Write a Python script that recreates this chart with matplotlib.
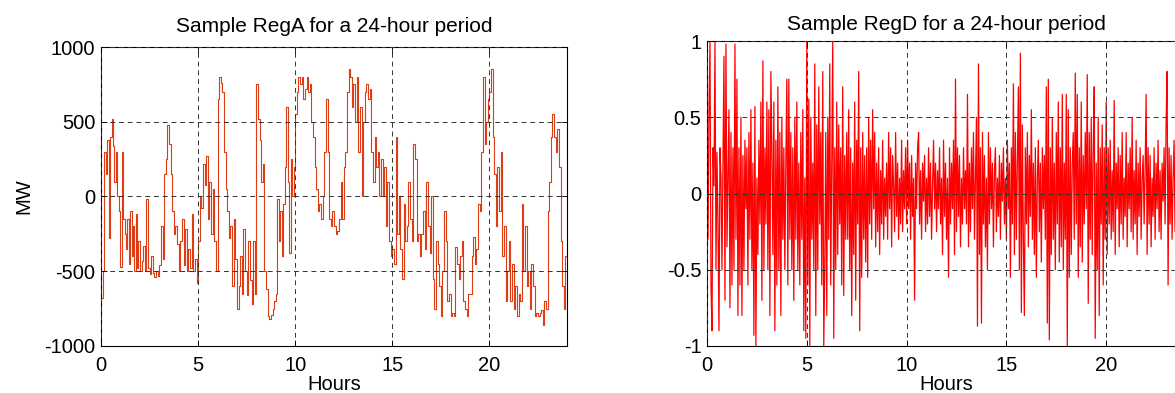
import numpy as np
import matplotlib.pyplot as plt

plt.rcParams['font.family'] = ['Liberation Sans', 'DejaVu Sans']
plt.rcParams['axes.unicode_minus'] = False

# RegA samples (MW), one list per hour
rega_hours = [
    [-680, -500, 300, 150, 380, -280, 400, 520, 340, 100, 300, 0, -100],
    [-470, 300, -150, -250, -350, -150, -450, -100, -400, -200, -500, -120, -480, -300],
    [-500, -430, -330, -500, -20, -480, -520, -400, -510, -540, -500, -530],
    [-460, -200, -420, 150, 250, 480, 350, 150, -100, -250, -200, -320],
    [-500, -300, -150, -460, -220, -500, -350, -480, -120, -500, -420, -580],
    [-300, 0, -80, 220, 80, 270, -150, 100, -250, 50, -300, -500],
    [650, 800, 760, 700, 300, 50, -100, -280, -200, -600, -150, -420],
    [-750, -600, -400, -650, -220, -500, -660, -300, -560, -720, -300, -650],
    [750, 520, 380, 100, 220, -500, -620, -800, -820, -790, -750, -700],
    [-650, -20, -300, -100, -400, -50, 200, 600, 100, -380, 250, 0, 200],
    [550, 700, 800, 750, 800, 650, 720, 800, 700, 750, 500, 400],
    [200, 50, -100, -50, -150, 0, 300, 650, 300, -150, -200, -100],
    [-200, -250, -230, -150, 100, -150, 200, 300, 700, 850, 800, 600],
    [750, 500, 800, 300, 600, 0, 500, 700, 750, 650, 720, 300],
    [100, 400, 200, 300, 0, 250, 0, 200, -200, 100, -300, -400],
    [-350, -450, 400, -250, 0, -350, -550, -50, -300, -200, 100, -150],
    [-300, 350, 250, -300, -250, -400, -250, -100, -350, 100, -200, -380],
    [0, -550, -750, -300, -450, -600, -800, -500, -100, -300, -700, -650],
    [-800, -780, -800, -340, -450, -550, -400, -300, -700, -750, -800, -650],
    [-650, -400, -270, -450, -350, -50, -100, 300, 800, 350, 500, 650],
    [700, 850, 400, 150, -200, 200, -100, 300, -400, -200, -700, -500],
    [-300, -700, -450, -750, -600, -800, -650, -700, -50, -500, -200, -600],
    [-500, -750, -450, -600, -800, -780, -800, -780, -760, -860, -700, -750],
    [-100, 100, 400, 550, 400, 300, 450, 200, -300, -600, -750, -400],
]

# RegD samples (normalised), one list per hour
regd_hours = [
    [0.2, -0.3, 0.55, 1.0, -0.6, -0.9, 0.3, 0.05, 1.0, -0.5, 0.27, -0.2, -0.9, 0.3, 0.1, -0.5, 0.2, 0.9, -0.7, 0.98],
    [-0.35, 0.1, 0.55, -0.75, 0.4, -0.6, 0.3, -0.5, 0.98, -0.3, 0.75, -0.8, 0.3, -0.6, 0.5, -0.8, 0.25, -0.5, 0.35, -0.1],
    [0.3, -0.6, 0.4, -0.3, 0.55, -0.5, 0.2, -0.93, 0.57, -1.0, 0.1, -0.4, 0.35, -0.2, 0.6, -0.7, 0.87, -0.5, 0.3, -0.2],
    [0.6, -0.5, 0.55, -0.8, 0.8, 0.3, -0.4, 0.6, -0.9, 0.35, -0.6, 0.7, -0.5, 0.4, -0.8, 0.5, -0.3, 0.3, -0.5, 0.2],
    [0.75, -0.6, 0.75, -0.3, 0.4, -0.5, 0.3, -0.7, 0.5, -0.3, 0.6, -0.5, 0.2, -0.6, 0.4, -0.3, 0.55, -0.9, 0.1, -0.95],
    [1.0, -0.6, 0.62, -1.0, 0.5, -0.3, 0.2, -0.5, 0.85, -0.8, 0.45, -0.5, 0.7, -0.2, 0.4, -0.6, 0.8, -1.0, -0.5, 0.4],
    [-0.8, 0.5, -0.3, 0.85, -0.6, 0.2, 1.0, -0.95, 0.3, -0.5, 0.6, -0.4, 0.45, -0.2, 0.3, -0.6, 0.7, -0.67, 0.25, -0.3],
    [0.4, -0.3, 0.55, -0.5, 0.3, -0.8, 0.2, -0.4, 0.6, -0.7, 0.35, -0.2, 0.8, -0.9, 0.3, -0.55, 0.4, -0.3, 0.25, -0.45],
    [0.3, -0.55, 0.5, -0.2, 0.35, -0.3, 0.55, -0.1, 0.4, -0.35, 0.2, -0.25, 0.3, -0.4, 0.15, -0.2, 0.35, -0.3, 0.1, -0.15],
    [0.2, -0.3, 0.4, -0.1, 0.3, -0.35, 0.25, 0.05, -0.25, 0.4, -0.15, 0.2, -0.3, 0.1, -0.2, 0.35, -0.25, 0.15, -0.1, 0.3],
    [-0.2, 0.35, -0.1, 0.2, -0.3, 0.25, -0.15, 0.1, -0.7, 0.2, -0.1, 0.3, 0.4, -0.2, 0.15, -0.3, 0.2, -0.05, 0.25, -0.25],
    [0.1, -0.2, 0.3, -0.15, 0.2, -0.3, 0.05, 0.35, -0.1, 0.2, -0.25, 0.15, -0.1, 0.3, -0.2, 0.1, -0.4, 0.35, -0.15, 0.2],
    [-0.3, 0.1, -0.55, 0.3, -0.2, 0.2, -0.1, 0.35, -0.4, 0.75, -0.25, 0.3, -0.15, 0.25, -0.35, 0.1, -0.2, 0.3, -0.1, 0.15],
    [-0.2, 0.65, -0.35, 0.2, -0.25, 0.3, -0.1, 0.4, -0.3, 0.1, 0.5, -0.87, 0.85, -0.4, 0.3, -0.85, 0.4, -0.2, 0.25, -0.35],
    [0.1, -0.5, 0.4, -0.2, 0.3, -0.1, 0.2, -0.35, 0.15, 0.3, -0.25, 0.1, -0.15, 0.25, -0.3, 0.2, -0.05, 0.3, -0.2, 0.1],
    [-0.3, 0.35, -0.1, 0.2, -0.55, 0.3, -0.2, 0.72, -0.4, 0.4, -0.3, 0.2, 0.7, -0.5, 0.92, -0.78, 0.45, -0.3, -0.8, 0.3],
    [-0.2, 0.4, -0.35, 0.25, -0.15, 0.55, -0.3, 0.2, -0.4, 0.3, -0.55, 0.1, 0.35, -0.25, 0.2, -0.45, 0.3, -0.1, 0.25, -0.3],
    [0.7, -0.85, 0.75, -0.96, 0.3, -0.4, 0.5, -0.3, 0.2, -0.5, 0.4, -0.2, 0.6, -0.45, 0.3, -0.35, 0.65, -0.5, 0.2, -0.3],
    [0.65, -1.0, 0.55, -0.55, 0.3, -0.4, 0.2, 0.4, -0.3, 0.79, -0.2, 0.65, -0.55, 0.3, -0.35, 0.6, -0.45, 0.25, -0.2, 0.4],
    [-0.1, 0.78, -0.72, 0.4, -0.3, 0.5, -0.4, 0.3, 0.7, -0.95, 0.2, -0.5, 0.5, -0.8, 0.3, -0.2, 0.45, -0.6, 0.3, -0.3],
    [0.6, -0.4, 0.3, -0.2, 0.35, -0.3, 0.15, -0.25, 0.61, -0.4, 0.2, -0.1, 0.3, -0.35, 0.25, -0.2, 0.4, -0.3, 0.1, -0.15],
    [0.4, -0.35, 0.2, -0.1, 0.3, -0.25, 0.5, -0.3, 0.15, -0.2, 0.35, -0.4, 0.2, -0.15, 0.3, -0.3, 0.1, 0.25, -0.2, 0.15],
    [0.65, -0.4, 0.3, -0.2, 0.25, -0.35, 0.1, -0.15, 0.3, -0.3, 0.2, -0.1, 0.35, -0.25, 0.15, -0.3, 0.2, -0.05, 0.3, -0.2],
    [0.45, 0.8, -0.6, 0.3, -0.2, 0.25, -0.3, 0.1, 0.35, -0.25, 0.2, -0.15, 0.3, -0.35, 0.15, -0.1, 0.25, -0.2, 0.1, 0.05],
]

xticks = [0, 5, 10, 15, 20]
rega_yticks = [-1000, -500, 0, 500, 1000]
regd_yticks = [-1, -0.5, 0, 0.5, 1]
regd_yticklabels = ['-1', '-0.5', '0', '0.5', '1']


def flatten(hours):
    t, v = [], []
    for h, vals in enumerate(hours):
        n = len(vals)
        t.extend(h + np.arange(n) / n)
        v.extend(vals)
    return np.array(t), np.array(v)


ta, va = flatten(rega_hours)
ta = np.append(ta, 24)
va = np.append(va, va[-1])
td, vd = flatten(regd_hours)
td = np.append(td, 24)
vd = np.append(vd, vd[-1])

fs = 14.5
fig = plt.figure(figsize=(11.75, 3.93), dpi=100)
ax1 = fig.add_axes([0.086, 0.1196, 0.3966, 0.7608])
ax2 = fig.add_axes([0.6017, 0.1196, 0.4077, 0.776])

grid_kw = dict(color='#333333', linestyle=(0, (5, 4)), linewidth=0.7)

ax1.step(ta, va, where='post', color='#DE3C14', linewidth=0.8)
ax1.set_xlim(0, 24)
ax1.set_ylim(-1000, 1000)
ax1.set_yticks(rega_yticks)
ax1.set_title('Sample RegA for a 24-hour period', fontsize=15, pad=11)
ax1.set_ylabel('MW', fontsize=fs, labelpad=8)

ax2.plot(td, vd, color='red', linewidth=0.9)
ax2.set_xlim(0, 24)
ax2.set_ylim(-1, 1)
ax2.set_yticks(regd_yticks)
ax2.set_yticklabels(regd_yticklabels)
ax2.set_title('Sample RegD for a 24-hour period', fontsize=15, pad=8)

for ax in (ax1, ax2):
    ax.set_xticks(xticks)
    ax.set_xlabel('Hours', fontsize=fs, labelpad=0)
    ax.grid(True, **grid_kw)
    ax.set_axisbelow(False)
    ax.tick_params(direction='in', length=4, width=0.6, top=True, right=True,
                   labelsize=fs)
    ax.tick_params(axis='x', pad=7)
    ax.tick_params(axis='y', pad=4)
    for s in ax.spines.values():
        s.set_linewidth(0.8)
        s.set_color('black')

fig.savefig('out.png', dpi=100)
